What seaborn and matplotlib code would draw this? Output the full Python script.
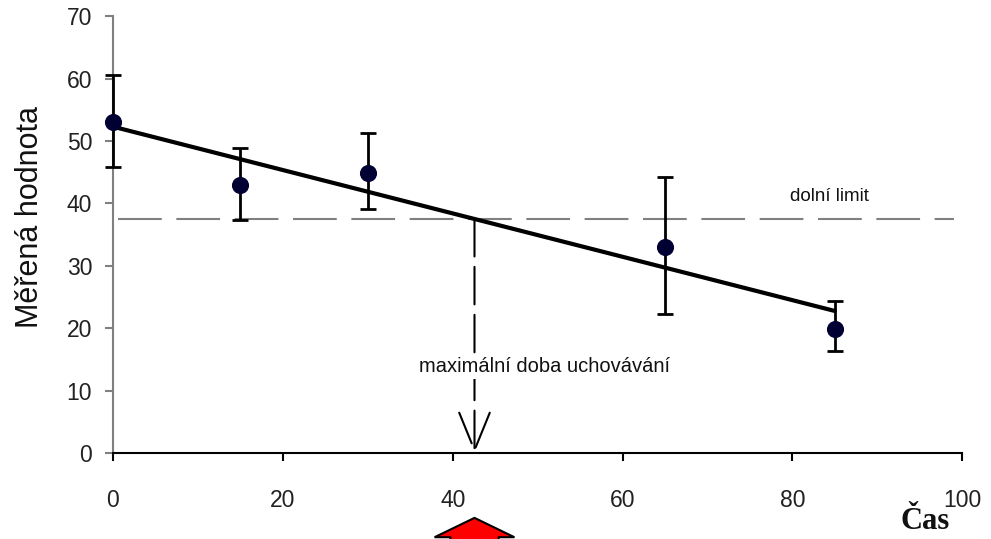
import numpy as np
import matplotlib
matplotlib.use("Agg")
import matplotlib.pyplot as plt
from matplotlib.patches import FancyArrow
import seaborn as sns

# hodnoty
cas = [0, 15, 30, 65, 85]
hodnota = [53.0, 42.9, 44.9, 33.0, 19.9]
horni_mez = [60.5, 48.9, 51.2, 44.3, 24.3]
dolni_mez = [45.8, 37.3, 39.1, 22.3, 16.3]
dolni_limit = 37.5

x_ticks = [0, 20, 40, 60, 80, 100]
y_ticks = [0, 10, 20, 30, 40, 50, 60, 70]


def main():
    sns.set_style("white")
    plt.rcParams["font.family"] = ["Liberation Sans", "DejaVu Sans"]

    fig = plt.figure(figsize=(9.91, 5.39), dpi=100)
    ax = fig.add_axes([0.114, 0.1596, 0.857, 0.8104])

    # chybové úsečky
    err = [np.subtract(hodnota, dolni_mez), np.subtract(horni_mez, hodnota)]
    eb = ax.errorbar(cas, hodnota, yerr=err, fmt="none", ecolor="black",
                     elinewidth=2, capsize=6, capthick=2, zorder=3)
    for child in eb.get_children():
        child.set_clip_on(False)

    # regresní přímka
    sns.regplot(x=cas, y=hodnota, ci=None, scatter=False, ax=ax,
                line_kws=dict(color="black", lw=3, zorder=4))

    # body
    sns.scatterplot(x=cas, y=hodnota, ax=ax, marker="o", s=130,
                    color="#000033", edgecolor="#000033", zorder=5,
                    clip_on=False)

    # dolní limit
    ax.hlines(dolni_limit, 0.6, 99, colors="#808080", lw=1.5,
              linestyles=(0, (21, 7)), zorder=2)
    ax.text(84.4, 41.1, "dolní limit", fontsize=13.5, ha="center", va="center",
            color="#111111")

    # průsečík přímky s limitem
    slope, intercept = np.polyfit(cas, hodnota, 1)
    x_cross = (dolni_limit - intercept) / slope

    ax.annotate("", xy=(x_cross, 0), xytext=(x_cross, dolni_limit),
                arrowprops=dict(arrowstyle="->, head_length=2.7, head_width=1.1",
                                color="black", lw=1.5, linestyle=(0, (18, 5)),
                                shrinkA=0, shrinkB=0), zorder=2)
    ax.text(50.8, 13.8, "maximální doba uchovávání", fontsize=14.5, ha="center",
            va="center", color="#111111",
            bbox=dict(facecolor="white", edgecolor="none", pad=2), zorder=3)

    # červená šipka pod osou
    arrow = FancyArrow(x_cross, -16.5, 0, 16.5 - 10.4, width=5.7, head_width=9.4,
                       head_length=3.1, length_includes_head=True,
                       facecolor="#ff0000", edgecolor="black", lw=1.5,
                       clip_on=False, zorder=6)
    ax.add_patch(arrow)

    ax.set_xlim(0, 100)
    ax.set_ylim(0, 70)
    ax.set_xticks(x_ticks)
    ax.set_yticks(y_ticks)
    ax.tick_params(axis="x", direction="out", length=6, width=1.5, color="black",
                   pad=20, labelsize=16.5, labelcolor="#222222", bottom=True)
    ax.tick_params(axis="y", direction="out", length=6, width=1.5, color="#808080",
                   pad=9, labelsize=16.5, labelcolor="#222222", left=True)

    sns.despine(ax=ax)
    ax.spines["left"].set_color("#808080")
    ax.spines["left"].set_linewidth(1.5)
    ax.spines["bottom"].set_color("black")
    ax.spines["bottom"].set_linewidth(1.5)

    ax.set_ylabel("Měřená hodnota", fontsize=22, color="#111111")
    ax.yaxis.set_label_coords(-0.08, 0.54)

    ax.set_xlabel("Čas", fontsize=22, fontweight="bold",
                  family=["Liberation Serif", "DejaVu Serif"], color="#111111")
    ax.xaxis.set_label_coords(0.956, -0.158)
    ax.xaxis.label.set_va("center")

    fig.savefig("out.png", dpi=100)


if __name__ == "__main__":
    main()
